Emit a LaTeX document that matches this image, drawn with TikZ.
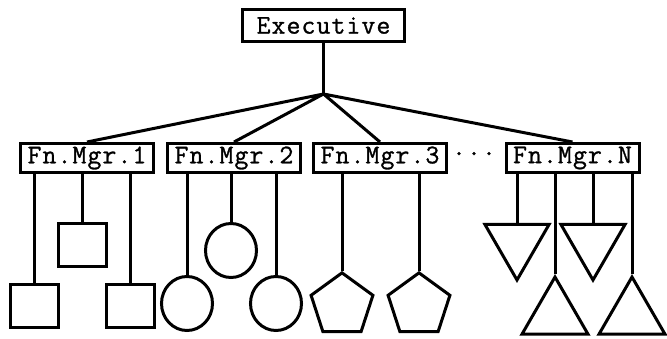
\documentclass[tikz,border=0pt]{standalone}
\usepackage{fontspec}
\setmonofont[LetterSpace=4, FakeBold=1]{Latin Modern Mono}
\usetikzlibrary{shapes.geometric}

\tikzset{
  unit/.style={draw, line width=3pt, inner sep=0pt},
  mgrbox/.style={unit, rectangle, font=\ttfamily\fontsize{27}{30}\selectfont,
    minimum width=133pt, minimum height=29pt},
  sqbox/.style={unit, rectangle, minimum width=48pt, minimum height=43pt},
  circbox/.style={unit, ellipse, minimum width=51pt, minimum height=54pt},
  pentbox/.style={unit, regular polygon, regular polygon sides=5, minimum size=65pt},
  tridown/.style={unit, regular polygon, regular polygon sides=3, minimum size=74pt,
    shape border rotate=180},
  triup/.style={unit, regular polygon, regular polygon sides=3, minimum size=76pt},
  wire/.style={line width=3pt}
}

\begin{document}
\begin{tikzpicture}[x=1pt, y=-1pt]

\useasboundingbox (0,0) rectangle (667,339);

% top of the tree
\node[mgrbox, minimum width=162pt, minimum height=32pt] (exec) at (323.5,25.5) {Executive};
\coordinate (hub) at (323.5,94);

% functional managers
\node[mgrbox] (fn1) at (87,158) {Fn.Mgr.1};
\node[mgrbox] (fn2) at (234,158) {Fn.Mgr.2};
\node[mgrbox] (fn3) at (380,158) {Fn.Mgr.3};
\node[mgrbox] (fnN) at (572.5,158) {Fn.Mgr.N};
\node[inner sep=0pt, font=\ttfamily\fontsize{27}{30}\selectfont] (dots) at (474,157) {···};

\draw[wire] (exec.south) -- (hub);
\draw[wire, line join=round] (fn1.north) -- (hub) -- (fn2.north);
\draw[wire, line join=round] (fn3.north) -- (hub) -- (fnN.north);

% units under manager 1
\node[sqbox, anchor=north] (sq1) at (34,283) {};
\node[sqbox, anchor=north] (sq2) at (82,222) {};
\node[sqbox, anchor=north] (sq3) at (130,283) {};

% units under manager 2
\node[circbox, anchor=north] (ci1) at (187,275) {};
\node[circbox, anchor=north] (ci2) at (231,222) {};
\node[circbox, anchor=north] (ci3) at (276,275) {};

% units under manager 3
\node[pentbox, anchor=corner 1] (pe1) at (342,271) {};
\node[pentbox, anchor=corner 1] (pe2) at (419,271) {};

% units under manager N
\node[tridown, anchor=side 2] (td1) at (517,223) {};
\node[triup, anchor=corner 1] (tu1) at (555,274) {};
\node[tridown, anchor=side 2] (td2) at (593,223) {};
\node[triup, anchor=corner 1] (tu2) at (632,274) {};

\foreach \u in {sq1,sq2,sq3}
  \draw[wire] (fn1.south -| \u.north) -- (\u.north);
\foreach \u in {ci1,ci2,ci3}
  \draw[wire] (fn2.south -| \u.north) -- (\u.north);
\foreach \u in {pe1,pe2}
  \draw[wire] (fn3.south -| \u.corner 1) -- (\u.corner 1);
\foreach \u in {td1,td2}
  \draw[wire] (fnN.south -| \u.side 2) -- (\u.side 2);
\foreach \u in {tu1,tu2}
  \draw[wire] (fnN.south -| \u.corner 1) -- (\u.corner 1);

\end{tikzpicture}
\end{document}
